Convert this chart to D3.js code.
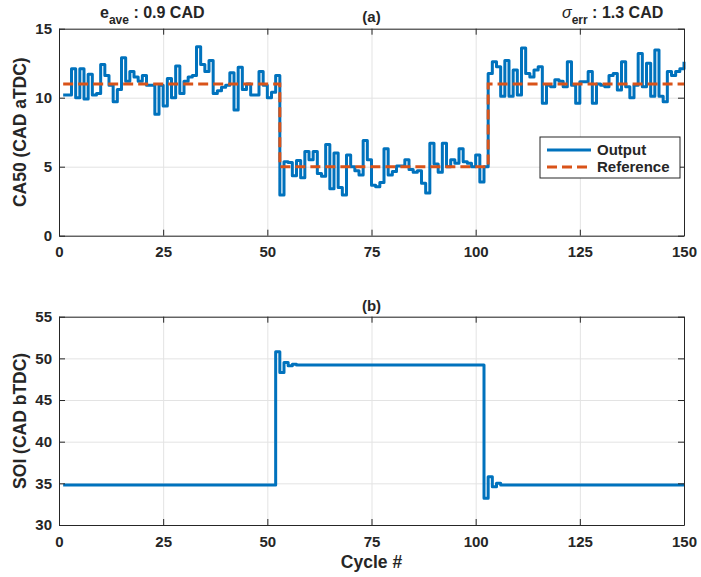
<!DOCTYPE html>
<html>
<head>
<meta charset="utf-8">
<script src="https://cdn.jsdelivr.net/npm/d3@7/dist/d3.min.js"></script>
<style>
  html, body { margin: 0; padding: 0; background: #fff; }
  text { font-family: "Liberation Sans", Arial, Helvetica, sans-serif; font-weight: bold; fill: #262626; }
</style>
</head>
<body>
<svg id="chart" width="701" height="577"></svg>
<script>
// ---------- data ----------
const cycles = d3.range(1, 151);
const ca50Output = [
  10.2, 10.2, 12.1, 10.0, 12.1, 9.9, 11.7, 10.2, 10.3, 12.4,
  11.6, 10.9, 9.7, 10.6, 12.9, 11.2, 11.9, 11.5, 11.2, 11.6,
  10.9, 10.9, 8.8, 10.9, 9.4, 11.4, 10.0, 12.3, 10.3, 11.2,
  11.5, 11.6, 13.7, 12.4, 11.9, 12.7, 10.3, 10.5, 10.75, 10.9,
  11.8, 9.1, 12.2, 10.6, 11.0, 10.2, 10.2, 11.9, 10.9, 10.0,
  10.4, 11.6, 2.95, 5.36, 5.3, 4.35, 5.45, 4.2, 6.1, 5.5,
  6.1, 4.5, 4.3, 6.6, 3.4, 6.0, 3.5, 2.95, 5.85, 5.0,
  4.7, 4.4, 6.9, 5.5, 3.65, 3.55, 3.85, 6.3, 4.4, 4.65,
  5.05, 5.05, 5.5, 4.8, 4.6, 4.7, 3.8, 3.1, 6.7, 5.2,
  4.6, 6.7, 5.0, 5.5, 5.25, 6.3, 5.35, 5.25, 5.0, 5.85,
  3.9, 5.0, 11.76, 12.6, 12.25, 10.1, 12.7, 10.1, 12.0, 10.2,
  13.6, 11.76, 11.5, 12.0, 12.25, 9.6, 10.9, 10.8, 11.3, 11.2,
  10.8, 12.6, 10.9, 9.6, 11.15, 11.15, 11.9, 9.6, 11.0, 10.9,
  10.8, 11.6, 11.75, 10.55, 12.6, 10.8, 10.0, 10.9, 13.2, 10.8,
  12.5, 10.1, 13.45, 10.1, 9.7, 11.9, 11.6, 11.9, 12.1, 12.6
];
// reference step changes (cycle where a new level starts, level)
const refCycles = [1, 53, 103, 150];
const refValues = [11, 5, 11, 11];

const soiValues = [
  34.8, 34.8, 34.8, 34.8, 34.8, 34.8, 34.8, 34.8, 34.8, 34.8,
  34.8, 34.8, 34.8, 34.8, 34.8, 34.8, 34.8, 34.8, 34.8, 34.8,
  34.8, 34.8, 34.8, 34.8, 34.8, 34.8, 34.8, 34.8, 34.8, 34.8,
  34.8, 34.8, 34.8, 34.8, 34.8, 34.8, 34.8, 34.8, 34.8, 34.8,
  34.8, 34.8, 34.8, 34.8, 34.8, 34.8, 34.8, 34.8, 34.8, 34.8,
  34.8, 50.8, 48.3, 49.5, 49.1, 49.3, 49.2, 49.2, 49.2, 49.2,
  49.2, 49.2, 49.2, 49.2, 49.2, 49.2, 49.2, 49.2, 49.2, 49.2,
  49.2, 49.2, 49.2, 49.2, 49.2, 49.2, 49.2, 49.2, 49.2, 49.2,
  49.2, 49.2, 49.2, 49.2, 49.2, 49.2, 49.2, 49.2, 49.2, 49.2,
  49.2, 49.2, 49.2, 49.2, 49.2, 49.2, 49.2, 49.2, 49.2, 49.2,
  49.2, 33.2, 35.8, 34.6, 35.0, 34.8, 34.8, 34.8, 34.8, 34.8,
  34.8, 34.8, 34.8, 34.8, 34.8, 34.8, 34.8, 34.8, 34.8, 34.8,
  34.8, 34.8, 34.8, 34.8, 34.8, 34.8, 34.8, 34.8, 34.8, 34.8,
  34.8, 34.8, 34.8, 34.8, 34.8, 34.8, 34.8, 34.8, 34.8, 34.8,
  34.8, 34.8, 34.8, 34.8, 34.8, 34.8, 34.8, 34.8, 34.8, 34.8
];

const xTicks = [0, 25, 50, 75, 100, 125, 150];
const yTicksA = [0, 5, 10, 15];
const yTicksB = [30, 35, 40, 45, 50, 55];
const legendLabels = ["Output", "Reference"];

// ---------- layout ----------
const svg = d3.select("#chart");
const BLUE = "#0072BD", ORANGE = "#D95319", AX = "#262626", GRID = "#e3e3e3";
const L = 59, R = 684;
const panelA = { top: 28.7, bottom: 235.7 };
const panelB = { top: 316.7, bottom: 525 };

const x = d3.scaleLinear().domain([0, 150]).range([L, R]);
const yA = d3.scaleLinear().domain([0, 15]).range([panelA.bottom, panelA.top]);
const yB = d3.scaleLinear().domain([30, 55]).range([panelB.bottom, panelB.top]);

function drawPanel(y, yTicks, p) {
  const g = svg.append("g");
  const h = p.bottom - p.top, w = R - L;
  g.append("g").attr("transform", `translate(0,${p.bottom})`)
    .call(d3.axisBottom(x).tickValues(xTicks).tickSize(-h).tickFormat(""))
    .call(s => { s.select(".domain").remove(); s.selectAll("line").attr("stroke", GRID).attr("stroke-width", 1); });
  g.append("g").attr("transform", `translate(${L},0)`)
    .call(d3.axisLeft(y).tickValues(yTicks).tickSize(-w).tickFormat(""))
    .call(s => { s.select(".domain").remove(); s.selectAll("line").attr("stroke", GRID).attr("stroke-width", 1); });
  return g;
}

function drawAxes(y, yTicks, p) {
  const g = svg.append("g");
  const styleAx = s => {
    s.select(".domain").attr("stroke", AX).attr("stroke-width", 1);
    s.selectAll(".tick line").attr("stroke", AX);
    s.selectAll("text").attr("font-size", 15).attr("font-weight", "bold")
      .attr("fill", AX).attr("font-family", '"Liberation Sans", Arial, sans-serif');
  };
  g.append("g").attr("transform", `translate(0,${p.bottom})`)
    .call(d3.axisBottom(x).tickValues(xTicks).tickSizeInner(-6).tickSizeOuter(0).tickPadding(11))
    .call(styleAx);
  g.append("g").attr("transform", `translate(0,${p.top})`)
    .call(d3.axisTop(x).tickValues(xTicks).tickSizeInner(-6).tickSizeOuter(0).tickFormat(""))
    .call(styleAx);
  g.append("g").attr("transform", `translate(${L},0)`)
    .call(d3.axisLeft(y).tickValues(yTicks).tickSizeInner(-6).tickSizeOuter(0).tickPadding(7))
    .call(styleAx);
  g.append("g").attr("transform", `translate(${R},0)`)
    .call(d3.axisRight(y).tickValues(yTicks).tickSizeInner(-6).tickSizeOuter(0).tickFormat(""))
    .call(styleAx);
}

// ---------- panel (a) ----------
drawPanel(yA, yTicksA, panelA);
const stepLine = (yS) => d3.line().x(d => x(d[0])).y(d => yS(d[1])).curve(d3.curveStepAfter);

svg.append("path")
  .datum(cycles.map((c, i) => [c, ca50Output[i]]))
  .attr("d", stepLine(yA))
  .attr("fill", "none").attr("stroke", BLUE).attr("stroke-width", 3).attr("stroke-linejoin", "round");
svg.append("path")
  .datum(refCycles.map((c, i) => [c, refValues[i]]))
  .attr("d", stepLine(yA))
  .attr("fill", "none").attr("stroke", ORANGE).attr("stroke-width", 3).attr("stroke-dasharray", "10,5");
drawAxes(yA, yTicksA, panelA);

// ---------- panel (b) ----------
drawPanel(yB, yTicksB, panelB);
svg.append("path")
  .datum(cycles.map((c, i) => [c, soiValues[i]]))
  .attr("d", stepLine(yB))
  .attr("fill", "none").attr("stroke", BLUE).attr("stroke-width", 3).attr("stroke-linejoin", "round");
drawAxes(yB, yTicksB, panelB);

// ---------- texts ----------
const mid = (L + R) / 2;
svg.append("text").attr("x", mid).attr("y", 22).attr("text-anchor", "middle").attr("font-size", 15).text("(a)");
svg.append("text").attr("x", mid).attr("y", 311).attr("text-anchor", "middle").attr("font-size", 15).text("(b)");

const t1 = svg.append("text").attr("x", 100).attr("y", 18).attr("font-size", 16);
t1.append("tspan").text("e");
t1.append("tspan").attr("font-size", 12).attr("dy", 6).text("ave");
t1.append("tspan").attr("dy", -6).text(" : 0.9 CAD");

const t2 = svg.append("text").attr("x", 562).attr("y", 18).attr("font-size", 16);
t2.append("tspan").attr("font-style", "italic").attr("font-weight", "normal").text("σ");
t2.append("tspan").attr("font-size", 12).attr("dy", 6).text("err");
t2.append("tspan").attr("dy", -6).text(" : 1.3 CAD");

svg.append("text").attr("transform", `translate(26,${(panelA.top + panelA.bottom) / 2}) rotate(-90)`)
  .attr("text-anchor", "middle").attr("font-size", 17.5).text("CA50 (CAD aTDC)");
svg.append("text").attr("transform", `translate(26,${(panelB.top + panelB.bottom) / 2}) rotate(-90)`)
  .attr("text-anchor", "middle").attr("font-size", 17.5).text("SOI (CAD bTDC)");
svg.append("text").attr("x", mid).attr("y", 568).attr("text-anchor", "middle").attr("font-size", 17.5).text("Cycle #");

// ---------- legend ----------
const lg = svg.append("g").attr("transform", "translate(540,137)");
lg.append("rect").attr("width", 140).attr("height", 41).attr("fill", "#fff").attr("stroke", AX).attr("stroke-width", 1);
lg.append("line").attr("x1", 7).attr("x2", 51).attr("y1", 13).attr("y2", 13).attr("stroke", BLUE).attr("stroke-width", 3);
lg.append("line").attr("x1", 7).attr("x2", 51).attr("y1", 30).attr("y2", 30).attr("stroke", ORANGE).attr("stroke-width", 3).attr("stroke-dasharray", "10,5");
lg.selectAll("text.lab").data(legendLabels).enter().append("text").attr("class", "lab")
  .attr("x", 57).attr("y", (d, i) => 18 + i * 17).attr("font-size", 15).text(d => d);
</script>
</body>
</html>
